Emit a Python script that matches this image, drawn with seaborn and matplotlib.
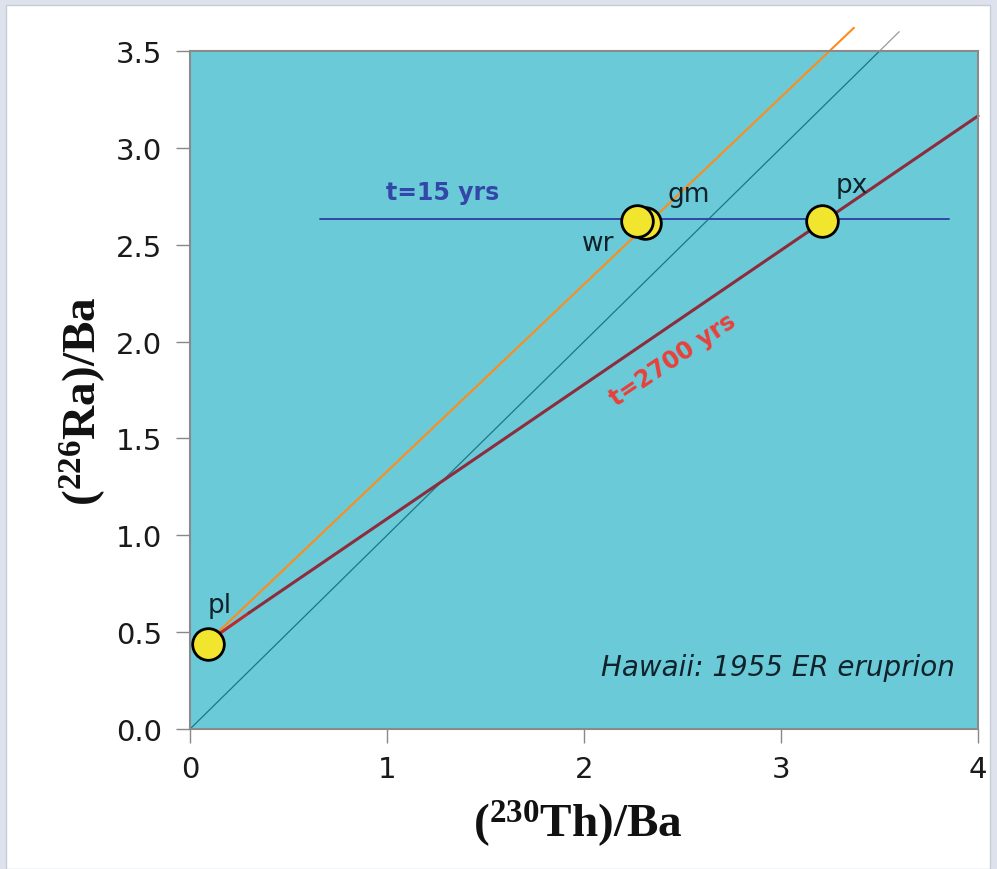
import matplotlib
matplotlib.use('Agg')
import matplotlib.pyplot as plt
import seaborn as sns
import pandas as pd
from matplotlib.patches import Rectangle

# sample points (230Th/Ba, 226Ra/Ba)
samples = ['gm', 'wr', 'px', 'pl']
th_ba = [2.31, 2.27, 3.21, 0.09]
ra_ba = [2.61, 2.62, 2.62, 0.44]

# reference lines
equi_x = [0.0, 3.5]
equi_y = [0.0, 3.5]
equi_ext_x = [3.5, 3.6]
equi_ext_y = [3.5, 3.6]
young_x = [0.09, 3.37]          # orange line
young_y = [0.45, 3.62]
old_x = [0.3, 4.0]              # t=2700 yrs
old_y = [0.6, 3.165]
old_start_x = [0.09, 0.3]
old_start_y = [0.45, 0.6]
iso15_x = [0.66, 3.85]          # t=15 yrs
iso15_y = [2.633, 2.633]

x_ticks = [0, 1, 2, 3, 4]
y_ticks = [0.0, 0.5, 1.0, 1.5, 2.0, 2.5, 3.0, 3.5]

sns.set_style('ticks')
plt.rcParams['font.family'] = ['DejaVu Sans']
plt.rcParams['mathtext.fontset'] = 'custom'
plt.rcParams['mathtext.rm'] = 'Liberation Serif:bold'
plt.rcParams['mathtext.bf'] = 'Liberation Serif:bold'

fig = plt.figure(figsize=(9.97, 8.70), dpi=100, facecolor='#dde2ec')
fig.patches.append(Rectangle((0.006, 0.0), 0.987, 0.993, transform=fig.transFigure,
                             facecolor='white', edgecolor='#c8ccd4', lw=1, zorder=-1))
ax = fig.add_axes([0.1906, 0.1609, 0.7904, 0.7793])
ax.set_zorder(2)
ax.set_facecolor('#6bcad8')

sns.lineplot(x=equi_x, y=equi_y, ax=ax, color='#1f7584', lw=0.9)
sns.lineplot(x=equi_ext_x, y=equi_ext_y, ax=ax, color='#9a9a9a', lw=0.9)
sns.lineplot(x=young_x, y=young_y, ax=ax, color='#ff8c1a', lw=1.5)
sns.lineplot(x=old_start_x, y=old_start_y, ax=ax, color='#c0282d', lw=2.2)
sns.lineplot(x=old_x, y=old_y, ax=ax, color='#8c2c3c', lw=2.2)
sns.lineplot(x=iso15_x, y=iso15_y, ax=ax, color='#3347a8', lw=1.4)
for ln in ax.lines:
    ln.set_clip_on(False)

df = pd.DataFrame({'sample': samples, 'th': th_ba, 'ra': ra_ba})
sns.scatterplot(data=df, x='th', y='ra', ax=ax, s=520, color='#f2e52e',
                edgecolor='black', linewidth=2, zorder=5, clip_on=False)

ax.set_xlim(0, 4)
ax.set_ylim(0, 3.5)
ax.set_xticks(x_ticks)
ax.set_yticks(y_ticks)
ax.set_xticklabels([str(t) for t in x_ticks])
ax.set_yticklabels([f'{t:.1f}' for t in y_ticks])
ax.tick_params(labelsize=21, length=10, width=1, color='#888888', labelcolor='#1a1a1a')
ax.tick_params(axis='x', pad=9)
ax.tick_params(axis='y', pad=10)
for sp in ax.spines.values():
    sp.set_color('#8a8a8a')
    sp.set_linewidth(1.5)

ax.set_xlabel(r'$\mathbf{(^{230}Th)/Ba}$', fontsize=34, color='#111111')
ax.set_ylabel(r'$\mathbf{(^{226}Ra)/Ba}$', fontsize=34, color='#111111')
ax.xaxis.label.set_verticalalignment('center')
ax.yaxis.label.set_verticalalignment('center')
ax.xaxis.set_label_coords(0.492, -0.138)
ax.yaxis.set_label_coords(-0.137, 0.485)

lab = {'pl': (0.15, 0.64), 'wr': (2.07, 2.51), 'gm': (2.53, 2.76), 'px': (3.36, 2.81)}
for name, (lx, ly) in lab.items():
    ax.text(lx, ly, name, fontsize=19, color='#10222a', ha='center', va='center')

ax.text(1.28, 2.77, 't=15 yrs', fontsize=17, fontweight='bold', color='#3347a8', ha='center', va='center')
ax.text(2.45, 1.91, 't=2700 yrs', fontsize=17, fontweight='bold', color='#e8403a',
        ha='center', va='center', rotation=34)
ax.text(3.88, 0.32, 'Hawaii: 1955 ER eruprion', fontsize=20, style='italic',
        color='#10222a', ha='right', va='center')

fig.savefig('out.png', dpi=100, facecolor=fig.get_facecolor())
